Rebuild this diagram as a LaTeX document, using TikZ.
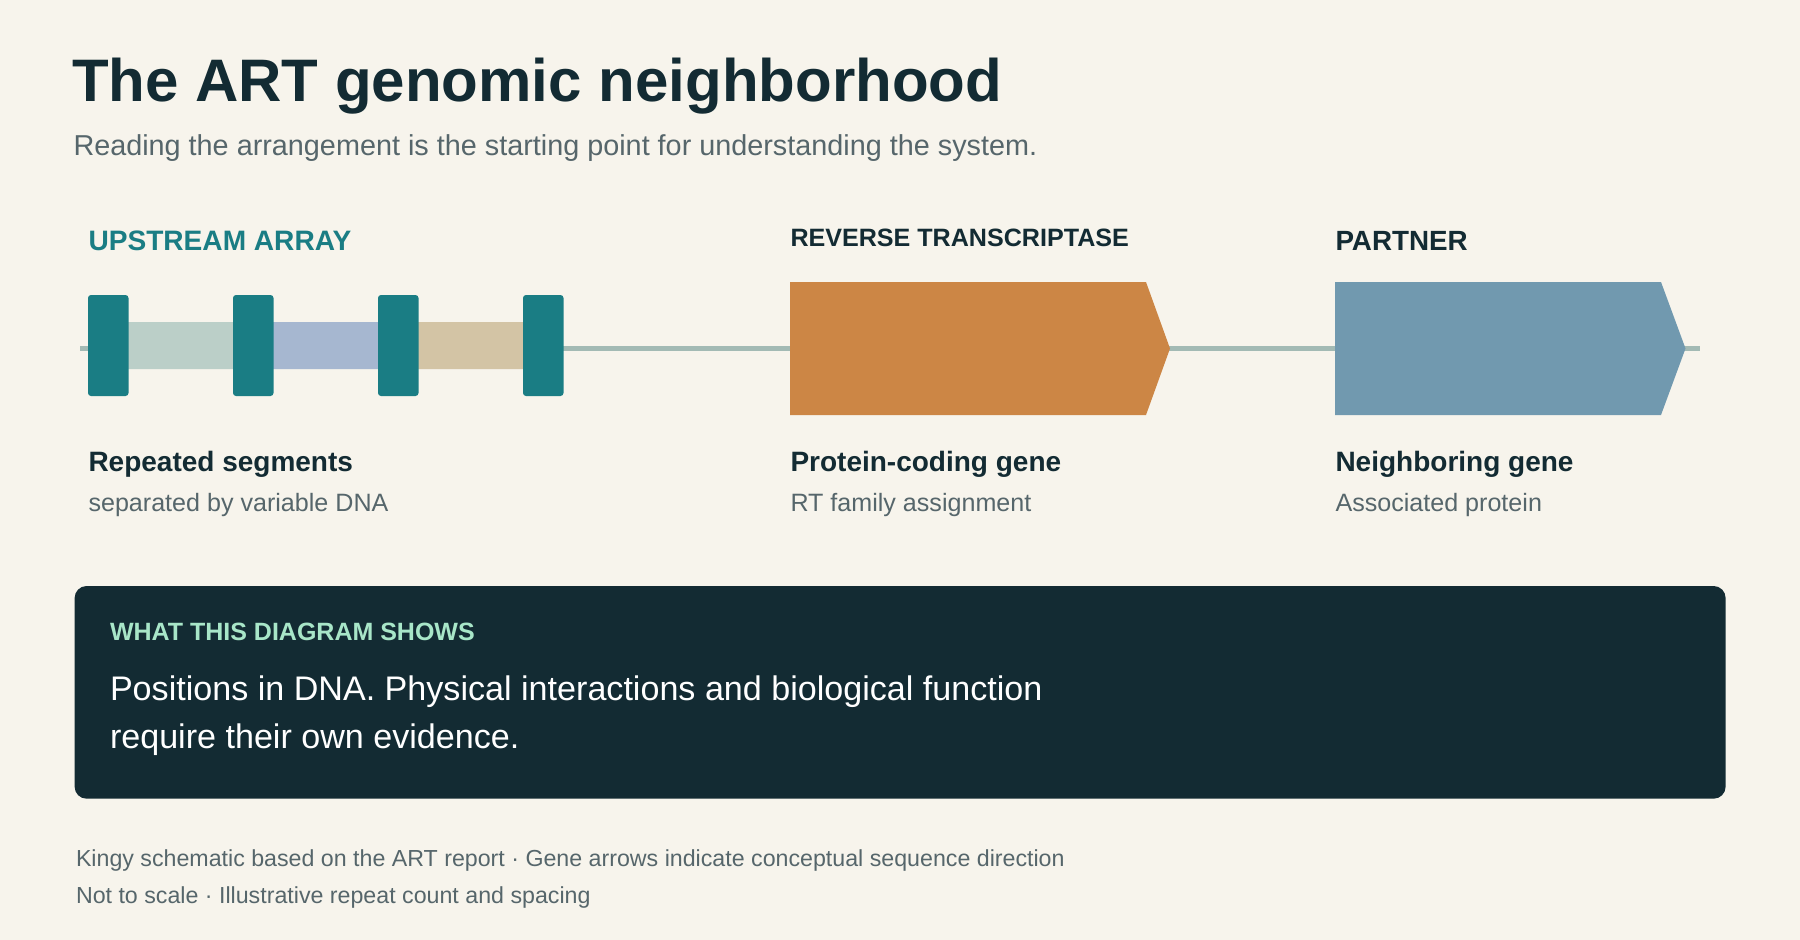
\documentclass[tikz,border=0pt]{standalone}
\usepackage{fontspec}
\setmainfont{Liberation Sans}
\definecolor{bg}{HTML}{F7F4EC}
\definecolor{ink}{HTML}{132B33}
\definecolor{muted}{HTML}{56666B}
\definecolor{teal}{HTML}{1A7D84}
\definecolor{dna}{HTML}{A3BAB4}
\definecolor{sp1}{HTML}{BBCFC8}
\definecolor{sp2}{HTML}{A6B7D0}
\definecolor{sp3}{HTML}{D3C4A5}
\definecolor{rtc}{HTML}{CC8645}
\definecolor{ptc}{HTML}{7199AF}
\definecolor{mint}{HTML}{A8E6C8}
\begin{document}
\begin{tikzpicture}[x=1pt,y=-1pt,
  txt/.style={anchor=base west, inner sep=0pt, outer sep=0pt},
  title/.style={txt, text=ink, font=\fontsize{60}{72}\selectfont\bfseries},
  subtitle/.style={txt, text=muted, font=\fontsize{28.8}{34}\selectfont},
  head/.style={txt, text=ink, font=\fontsize{28.1}{33}\selectfont\bfseries},
  lab/.style={txt, text=ink, font=\fontsize{28}{33}\selectfont\bfseries},
  sublab/.style={txt, text=muted, font=\fontsize{25.1}{30}\selectfont},
  rep/.style={fill=teal, rounded corners=3pt},
  spacer/.style={rounded corners=2pt},
  foot/.style={txt, text=muted, font=\fontsize{23.2}{28}\selectfont}]
\useasboundingbox (0,0) rectangle (1800,940);
\fill[bg] (0,0) rectangle (1800,940);

% title
\node[title] (ttl) at (72,101.7) {The ART genomic neighborhood};
\node[subtitle] (sub) at (73.5,155) {Reading the arrangement is the starting point for understanding the system.};

% section headers
\node[head, text=teal] (h1) at (88.5,250) {UPSTREAM ARRAY};
\node[head, font=\fontsize{25.1}{30}\selectfont\bfseries] (h2) at (790.5,246.7) {REVERSE TRANSCRIPTASE};
\node[head, font=\fontsize{27.8}{33}\selectfont\bfseries] (h3) at (1335.5,250) {PARTNER};

% DNA backbone
\draw[dna, line width=5pt] (80,348) -- (1700,348);

% spacers
\fill[sp1, spacer] (126,322) rectangle (235,369);
\fill[sp2, spacer] (271,322) rectangle (380,369);
\fill[sp3, spacer] (416,322) rectangle (525,369);

% repeats
\foreach \x in {88,233,378,523}
  \fill[rep] (\x,295) rectangle ++(40.5,101);

% genes
\fill[rtc] (790,282) -- (1146,282) -- (1170,348.5) -- (1146,415) -- (790,415) -- cycle;
\fill[ptc] (1335,282) -- (1661,282) -- (1685.5,348.5) -- (1661,415) -- (1335,415) -- cycle;

% labels
\node[lab] (l1) at (88.5,471) {Repeated segments};
\node[sublab] (s1) at (88.5,511) {separated by variable DNA};
\node[lab] (l2) at (790.5,471) {Protein-coding gene};
\node[sublab] (s2) at (790.5,511) {RT family assignment};
\node[lab] (l3) at (1335.5,471) {Neighboring gene};
\node[sublab] (s3) at (1335.5,511) {Associated protein};

% note box
\fill[ink, rounded corners=12pt] (74.6,586) rectangle (1725.6,798.7);
\node[txt, text=mint, font=\fontsize{25}{30}\selectfont\bfseries] (nh) at (110,640) {WHAT THIS DIAGRAM SHOWS};
\node[txt, text=white, font=\fontsize{34.1}{40}\selectfont] (n1) at (110,700) {Positions in DNA. Physical interactions and biological function};
\node[txt, text=white, font=\fontsize{34.1}{40}\selectfont] (n2) at (110,748) {require their own evidence.};

% footer
\node[foot] (f1) at (76,866.5) {Kingy schematic based on the ART report · Gene arrows indicate conceptual sequence direction};
\node[foot] (f2) at (76,903) {Not to scale · Illustrative repeat count and spacing};
\end{tikzpicture}
\end{document}
